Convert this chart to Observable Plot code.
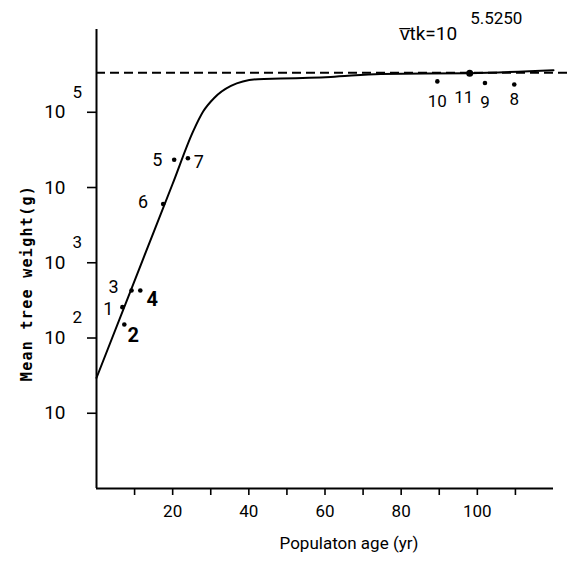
<!DOCTYPE html>
<html>
<head>
<meta charset="utf-8">
<script src="https://cdn.jsdelivr.net/npm/d3@7"></script>
<script src="https://cdn.jsdelivr.net/npm/@observablehq/plot@0.6"></script>
<style>
  html, body { margin: 0; padding: 0; background: #fff; }
  svg { display: block; }
</style>
</head>
<body>
<script>
// ---- data ----
const plotNo   = [1, 2, 3, 4, 5, 6, 7, 8, 9, 10, 11];
const ageYr    = [6.8, 7.3, 9.2, 11.5, 20.4, 17.5, 24, 109.7, 102, 89.5, 98];
const weightG  = [257, 151, 427, 427, 23400, 6030, 24500, 234000, 245000, 257000, 331000];

const curveAge    = [0, 12, 20, 25.4, 28, 30.9, 35.3, 42.4, 48.4, 61.5, 74.6, 98, 120];
const curveWeight = [29.5, 1047, 11220, 56230, 102300, 154900, 223900, 275400, 280000, 295100, 323600, 331100, 363100];

const wtkExponent = 5.525;
const wtkLabel = "v\u0305tk=10";
const wtkSup = "5.5250";

const yTickExp  = [1, 2, 3, 4, 5];
const yTickBase = ["10", "10", "10", "10", "10"];
const yTickSup  = ["", "2", "3", "", "5"];

const xTicks = [10, 20, 30, 40, 50, 60, 70, 80, 90, 100, 110];
const xTickLabels = ["", "20", "", "40", "", "60", "", "80", "", "100", ""];

const xTitle = "Populaton age (yr)";
const yTitle = "Mean tree weight(g)";

// ---- build tables ----
const pts = plotNo.map((n, i) => ({n, age: ageYr[i], w: weightG[i]}));
const curve = curveAge.map((a, i) => ({age: a, w: curveWeight[i]}));
const yt = yTickExp.map((e, i) => ({v: Math.pow(10, e), base: yTickBase[i], sup: yTickSup[i]}));
const wtk = Math.pow(10, wtkExponent);

const FONT = "Roboto, 'Liberation Sans', sans-serif";
const pick = (ids) => pts.filter(d => ids.includes(d.n));

const chart = Plot.plot({
  width: 578,
  height: 563,
  marginLeft: 96,
  marginRight: 25,
  marginTop: 29,
  marginBottom: 75,
  style: {fontFamily: FONT, background: "#fff", color: "#000", overflow: "visible"},
  x: {domain: [0, 120], label: null},
  y: {type: "log", domain: [1, Math.pow(10, 6.1)], label: null},
  marks: [
    // axes
    Plot.ruleX([0], {stroke: "#000", strokeWidth: 2}),
    Plot.ruleY([1], {stroke: "#000", strokeWidth: 2}),
    Plot.axisX({ticks: xTicks, tickSize: 7, tickPadding: 9, strokeWidth: 1.6,
      tickFormat: d => xTickLabels[xTicks.indexOf(d)], fontSize: 17, label: null}),
    Plot.axisY({ticks: yt.map(d => d.v), tickSize: 9, strokeWidth: 1.6, tickFormat: () => "", label: null}),
    Plot.text(yt, {x: 0, y: "v", text: "base", textAnchor: "end", dx: -31, fontSize: 19}),
    Plot.text(yt, {x: 0, y: "v", text: "sup", textAnchor: "start", dx: -24, dy: -20, fontSize: 17}),
    // asymptote
    Plot.ruleY([wtk], {x1: 0, x2: 124, stroke: "#000", strokeWidth: 2, strokeDasharray: "9,5", clip: false}),
    // fitted curve
    Plot.line(curve, {x: "age", y: "w", curve: "monotone-x", stroke: "#000", strokeWidth: 2}),
    // observed points
    Plot.dot(pts.filter(d => d.n !== 11), {x: "age", y: "w", r: 2.3, fill: "#000", stroke: "none"}),
    Plot.dot(pick([11]), {x: "age", y: "w", r: 3.5, fill: "#000", stroke: "none"}),
    // point labels
    Plot.text(pick([1]), {x: "age", y: "w", text: "n", dx: -14, dy: 2, fontSize: 18}),
    Plot.text(pick([3]), {x: "age", y: "w", text: "n", dx: -18, dy: -3, fontSize: 18}),
    Plot.text(pick([5]), {x: "age", y: "w", text: "n", dx: -17, fontSize: 18}),
    Plot.text(pick([6]), {x: "age", y: "w", text: "n", dx: -20, dy: -2, fontSize: 18}),
    Plot.text(pick([7]), {x: "age", y: "w", text: "n", dx: 11, dy: 4, fontSize: 18}),
    Plot.text(pick([4]), {x: "age", y: "w", text: "n", dx: 12, dy: 9, fontSize: 20, fontWeight: "bold"}),
    Plot.text(pick([2]), {x: "age", y: "w", text: "n", dx: 9, dy: 11, fontSize: 20, fontWeight: "bold"}),
    Plot.text(pick([10]), {x: "age", y: "w", text: "n", dy: 20, fontSize: 17}),
    Plot.text(pick([11]), {x: "age", y: "w", text: "n", dx: -6, dy: 24, fontSize: 17}),
    Plot.text(pick([9]), {x: "age", y: "w", text: "n", dy: 20, fontSize: 17}),
    Plot.text(pick([8]), {x: "age", y: "w", text: "n", dy: 15, fontSize: 17}),
    // annotation
    Plot.text([wtkLabel], {x: 94.7, y: wtk, text: d => d, textAnchor: "end", dy: -39, fontSize: 19}),
    Plot.text([wtkSup], {x: 94.7, y: wtk, text: d => d, textAnchor: "start", dx: 13, dy: -54, fontSize: 17}),
    // axis titles
    Plot.text([xTitle], {frameAnchor: "bottom", text: d => d, dx: 24, dy: 60, fontSize: 17}),
    Plot.text([yTitle], {frameAnchor: "left", textAnchor: "middle", text: d => d, rotate: -90, dx: -69, dy: 24, fontSize: 15,
      fontFamily: "'DejaVu Sans Mono', monospace", fontWeight: "bold"})
  ]
});
// widen the y title's letter spacing like the typewritten original
d3.select(chart).selectAll("text").filter(function() { return this.textContent === yTitle; })
  .attr("letter-spacing", "1.3px");
document.body.appendChild(chart);
</script>
</body>
</html>
